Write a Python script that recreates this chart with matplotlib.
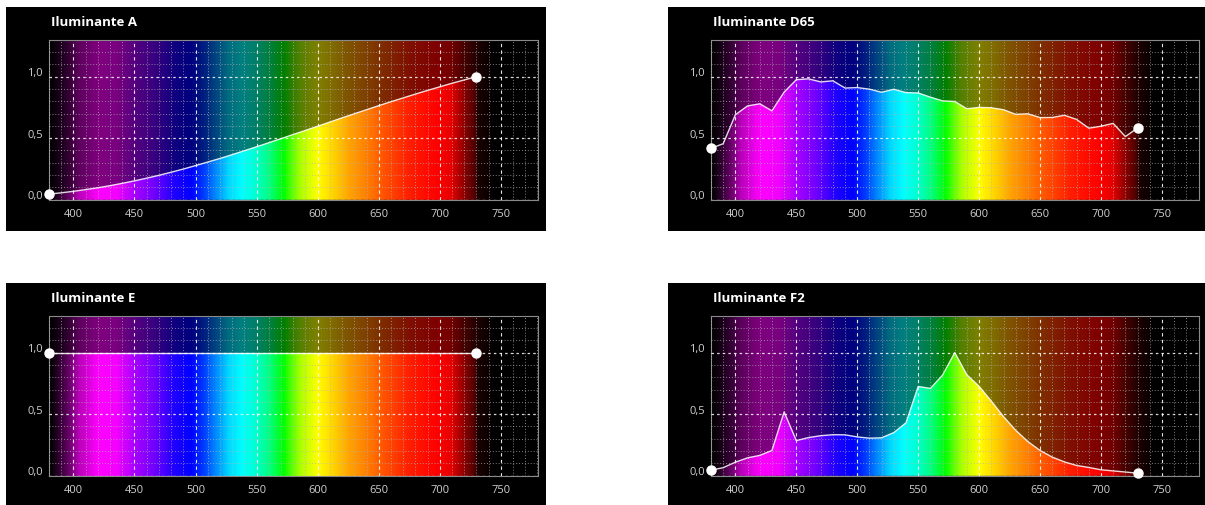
import numpy as np
import matplotlib
matplotlib.use("Agg")
import matplotlib.pyplot as plt
from matplotlib.colors import LinearSegmentedColormap
from matplotlib.patches import Rectangle
from matplotlib.transforms import ScaledTranslation

plt.rcParams['font.family'] = ['Open Sans', 'DejaVu Sans']

# wavelengths (nm) and relative spectral power
wl = [380, 390, 400, 410, 420, 430, 440, 450, 460, 470, 480, 490,
      500, 510, 520, 530, 540, 550, 560, 570, 580, 590, 600, 610,
      620, 630, 640, 650, 660, 670, 680, 690, 700, 710, 720, 730]

ilum_a = [0.045, 0.056, 0.068, 0.082, 0.097, 0.114, 0.133, 0.153, 0.175, 0.198,
          0.223, 0.249, 0.277, 0.306, 0.335, 0.366, 0.398, 0.430, 0.463, 0.496,
          0.530, 0.563, 0.597, 0.631, 0.665, 0.698, 0.731, 0.764, 0.796, 0.827,
          0.858, 0.888, 0.917, 0.946, 0.973, 1.000]

ilum_d65 = [0.417, 0.455, 0.690, 0.762, 0.779, 0.722, 0.874, 0.975, 0.982, 0.957,
            0.966, 0.907, 0.911, 0.898, 0.873, 0.897, 0.870, 0.867, 0.833, 0.803,
            0.798, 0.739, 0.750, 0.747, 0.731, 0.694, 0.698, 0.667, 0.668, 0.686,
            0.652, 0.581, 0.597, 0.620, 0.513, 0.582]

ilum_e = [1.0] * len(wl)

ilum_f2 = [0.045, 0.065, 0.110, 0.145, 0.165, 0.205, 0.518, 0.285, 0.310, 0.325,
           0.333, 0.332, 0.315, 0.305, 0.308, 0.350, 0.430, 0.725, 0.709, 0.817,
           1.000, 0.819, 0.726, 0.606, 0.480, 0.369, 0.277, 0.205, 0.151, 0.112,
           0.083, 0.067, 0.048, 0.039, 0.030, 0.020]

titles = ["Iluminante A", "Iluminante D65", "Iluminante E", "Iluminante F2"]
series = [ilum_a, ilum_d65, ilum_e, ilum_f2]

x_ticks = [400, 450, 500, 550, 600, 650, 700, 750]
y_ticks = [0.0, 0.5, 1.0]
y_labels = ["0,0", "0,5", "1,0"]

# spectrum colour stops
spec_wl = [380, 392, 405, 420, 435, 450, 465, 482, 496, 505, 515, 527, 538,
           550, 563, 572, 585, 600, 615, 625, 640, 655, 675, 698, 710, 722,
           733, 745, 780]
spec_col = [(0, 0, 0), (0.3, 0, 0.3), (0.75, 0, 0.75), (1, 0, 1), (0.95, 0, 1),
            (0.65, 0, 1), (0.45, 0, 1), (0.12, 0, 1), (0, 0, 1), (0, 0.2, 1),
            (0, 0.5, 1), (0, 0.85, 1), (0, 1, 1), (0, 1, 0.8), (0, 1, 0.4),
            (0, 1, 0), (0.65, 1, 0), (1, 1, 0), (1, 0.8, 0), (1, 0.65, 0),
            (1, 0.5, 0), (1, 0.32, 0), (1, 0.12, 0), (1, 0, 0), (0.9, 0, 0),
            (0.5, 0, 0), (0.2, 0, 0), (0, 0, 0), (0, 0, 0)]
spec_cmap = LinearSegmentedColormap.from_list(
    "spec", [((w - 380) / 400, c) for w, c in zip(spec_wl, spec_col)])

W, H = 1205, 506
fig = plt.figure(figsize=(W / 100, H / 100), dpi=100)
fig.patch.set_facecolor("white")

# pixel boxes: (bg left, bg top, bg right, bg bottom), (ax left, ax top, ax right, ax bottom)
boxes = [
    ((6, 7.5, 546, 232), (49, 40.7, 537.5, 200.7)),
    ((667.5, 7.5, 1205, 232), (711, 40.7, 1198.5, 200.7)),
    ((6, 283.5, 546, 510), (49, 316.7, 537.5, 476.7)),
    ((667.5, 283.5, 1205, 510), (711, 316.7, 1198.5, 476.7)),
]

xs = np.linspace(380, 780, 801)
rgb = spec_cmap((xs - 380) / 400)[None, :, :3]
dim = rgb * 0.5

for title, vals, (bg, ab) in zip(titles, series, boxes):
    fig.patches.append(Rectangle((bg[0] / W, 1 - bg[3] / H), (bg[2] - bg[0]) / W,
                                 (bg[3] - bg[1]) / H, transform=fig.transFigure,
                                 facecolor="black", edgecolor="none", zorder=-5))
    ax = fig.add_axes([ab[0] / W, 1 - ab[3] / H, (ab[2] - ab[0]) / W, (ab[3] - ab[1]) / H])
    ax.set_zorder(2)
    ax.set_facecolor("black")
    ax.imshow(dim, extent=[380, 780, 0, 1.3], aspect="auto", zorder=0)
    im = ax.imshow(rgb, extent=[380, 780, 0, 1.3], aspect="auto", zorder=1)
    poly = ax.fill_between(wl, vals, 0, facecolor="none", edgecolor="none")
    im.set_clip_path(poly.get_paths()[0], transform=ax.transData)
    ax.plot(wl, vals, color="white", lw=1, alpha=0.85, zorder=4)
    ax.plot([wl[0], wl[-1]], [vals[0], vals[-1]], "o", color="white", ms=6.5,
            zorder=5, clip_on=False)

    ax.set_xlim(380, 780)
    ax.set_ylim(0, 1.3)
    ax.set_xticks(x_ticks)
    ax.set_xticks(range(380, 781, 10), minor=True)
    ax.set_yticks(y_ticks)
    ax.set_yticks(np.arange(0.1, 1.3, 0.1), minor=True)
    ax.set_yticklabels([])
    ax.set_axisbelow(False)
    ax.grid(which="major", axis="x", color="white", ls=(0, (3, 3)), lw=0.8, alpha=0.9)
    ax.grid(which="major", axis="y", color="white", ls=(0, (2, 2.5)), lw=0.9, alpha=0.85)
    ax.grid(which="minor", color="#b5b5b5", ls=(0, (1, 2)), lw=0.7, alpha=0.7)
    ax.tick_params(which="both", length=0)
    ax.tick_params(axis="x", pad=6, labelsize=8, labelcolor="#d0d0d0")
    for s in ax.spines.values():
        s.set_color("#8a8a8a")
        s.set_linewidth(0.8)

    off = ScaledTranslation(-6 / 100, 4 / 100, fig.dpi_scale_trans)
    for yv, lab in zip(y_ticks, y_labels):
        ax.text(0, yv, lab, transform=ax.get_yaxis_transform() + off,
                ha="right", va="center", fontsize=8, color="#d0d0d0")

    fig.text((ab[0] + 2) / W, 1 - (ab[1] - 18) / H, title, fontsize=9.5,
             fontweight="bold", color="white", ha="left", va="center")

fig.savefig("out.png", dpi=100)
